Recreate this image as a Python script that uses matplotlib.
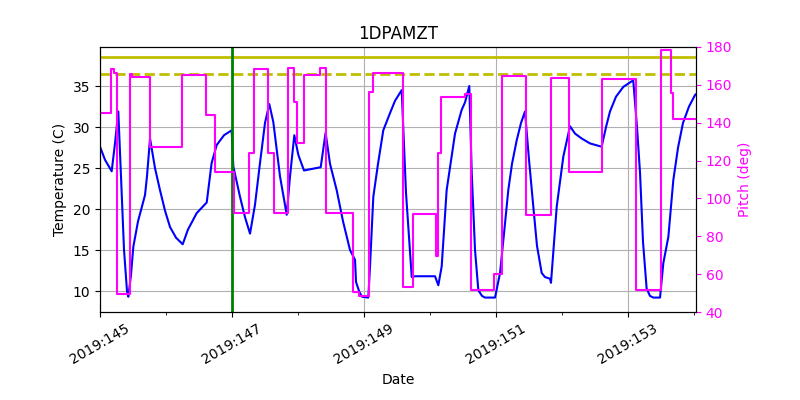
import matplotlib
matplotlib.use("Agg")
import matplotlib.pyplot as plt
from matplotlib.ticker import FixedLocator, FixedFormatter, MultipleLocator

# Temperature (1DPAMZT) vs day-of-year 2019
temp_days = [145.000, 145.076, 145.177, 145.227, 145.277, 145.318, 145.364, 145.409, 145.429,
             145.470, 145.505, 145.576, 145.682, 145.712, 145.758, 145.833, 145.909, 145.985,
             146.061, 146.152, 146.253, 146.333, 146.465, 146.617, 146.691, 146.768, 146.879,
             146.995, 147.020, 147.121, 147.197, 147.273, 147.348, 147.424, 147.500, 147.565,
             147.626, 147.727, 147.829, 147.879, 147.944, 148.005, 148.091, 148.344, 148.418,
             148.485, 148.586, 148.682, 148.788, 148.864, 148.879, 148.929, 148.970, 149.065,
             149.091, 149.141, 149.212, 149.292, 149.394, 149.470, 149.571, 149.636, 149.723,
             149.773, 150.076, 150.126, 150.177, 150.252, 150.379, 150.480, 150.530, 150.595,
             150.632, 150.682, 150.732, 150.788, 150.833, 150.985, 151.061, 151.121, 151.186,
             151.242, 151.314, 151.379, 151.439, 151.500, 151.565, 151.621, 151.692, 151.742,
             151.818, 151.833, 151.920, 152.020, 152.121, 152.197, 152.298, 152.424, 152.600,
             152.667, 152.727, 152.818, 152.929, 153.079, 153.136, 153.182, 153.227, 153.282,
             153.333, 153.383, 153.485, 153.535, 153.611, 153.686, 153.758, 153.833, 153.924,
             154.015, 154.030]
temp_vals = [27.6, 26.0, 24.6, 28.0, 31.9, 24.0, 15.0, 10.0, 9.3,
             12.0, 15.4, 18.5, 21.7, 24.0, 28.6, 25.0, 22.3, 19.8,
             17.8, 16.5, 15.7, 17.5, 19.5, 20.8, 25.6, 27.8, 29.0,
             29.6, 25.2, 21.5, 19.0, 17.0, 20.5, 25.6, 30.5, 32.8,
             30.6, 24.0, 19.3, 24.0, 29.0, 26.6, 24.7, 25.1, 29.3,
             25.5, 22.3, 18.5, 15.0, 13.8, 11.1, 9.9, 9.3, 9.2,
             13.0, 21.5, 25.5, 29.6, 31.7, 33.2, 34.5, 22.0, 11.7,
             11.8, 11.8, 10.7, 13.0, 22.3, 29.2, 32.1, 33.0, 35.0,
             24.4, 15.0, 10.1, 9.4, 9.2, 9.2, 12.2, 17.0, 22.3,
             25.5, 28.4, 30.5, 31.9, 26.0, 20.3, 15.5, 12.2, 11.7,
             11.5, 11.0, 20.3, 26.4, 30.1, 29.2, 28.6, 28.0, 27.6,
             30.0, 31.9, 33.7, 34.9, 35.7, 30.0, 24.4, 16.0, 10.3,
             9.4, 9.2, 9.2, 13.4, 16.6, 23.5, 27.5, 30.5, 32.5,
             33.9, 34.0]

# Pitch (step changes)
pitch_days = [145.000, 145.162, 145.212, 145.253, 145.455, 145.480, 145.758, 146.238, 146.606,
              146.742, 147.030, 147.262, 147.333, 147.550, 147.636, 147.844, 147.945, 147.988,
              148.091, 148.333, 148.424, 148.838, 148.927, 149.080, 149.139, 149.595, 149.736,
              150.091, 150.114, 150.161, 150.530, 150.617, 150.970, 151.086, 151.450, 151.833,
              152.109, 152.611, 153.117, 153.494, 153.645, 153.685, 154.030]
pitch_vals = [145.3, 168.2, 166.1, 49.5, 165.6, 164.3, 127.0, 165.2, 144.1,
              113.8, 92.1, 123.8, 168.2, 123.8, 92.1, 169.1, 151.1, 129.4,
              165.2, 168.7, 92.1, 50.7, 48.5, 156.4, 166.4, 53.0, 91.8,
              69.6, 123.8, 153.7, 155.0, 51.6, 60.1, 164.7, 91.2, 163.8,
              113.8, 162.9, 51.6, 178.4, 155.5, 141.8, 141.8]

limit_caution = 38.6
limit_planning = 36.5
marker_day = 147.0

tick_days = [145, 147, 149, 151, 153]
tick_labels = ["2019:145", "2019:147", "2019:149", "2019:151", "2019:153"]

fig = plt.figure(figsize=(8, 4), dpi=100)
ax = fig.add_axes([0.125, 0.22, 0.745, 0.6625])

ax.plot(temp_days, temp_vals, color="b", lw=1.5)
ax.axhline(limit_caution, color="y", lw=2, ls="-")
ax.axhline(limit_planning, color="y", lw=2, ls="--")
ax.axvline(marker_day, color="g", lw=2)

ax.set_xlim(145.0, 154.03)
ax.set_ylim(7.44, 39.76)
ax.xaxis.set_major_locator(FixedLocator(tick_days))
ax.xaxis.set_major_formatter(FixedFormatter(tick_labels))
ax.xaxis.set_minor_locator(MultipleLocator(1))
ax.set_yticks([10, 15, 20, 25, 30, 35])
ax.grid(True, which="major", color="#b0b0b0", lw=0.8)
for lbl in ax.get_xticklabels():
    lbl.set_rotation(30)
    lbl.set_ha("center")
ax.set_xlabel("Date")
ax.set_ylabel("Temperature (C)")
ax.set_title("1DPAMZT")

ax2 = ax.twinx()
ax2.step(pitch_days, pitch_vals, where="post", color="magenta", lw=1.5)
ax2.set_ylim(40, 180)
ax2.set_yticks(range(40, 181, 20))
ax2.tick_params(axis="y", colors="magenta")
ax2.set_ylabel("Pitch (deg)", color="magenta")
ax2.set_xlim(145.0, 154.03)

fig.savefig("out.png", dpi=100)
